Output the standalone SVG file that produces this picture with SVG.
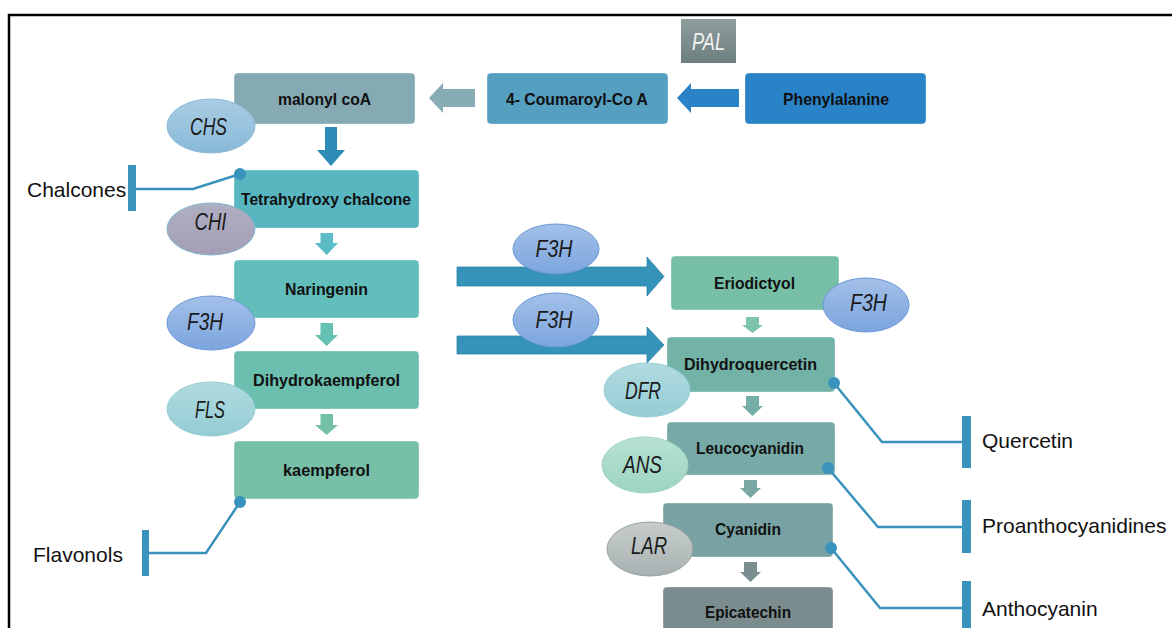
<svg xmlns="http://www.w3.org/2000/svg" width="1172" height="628" viewBox="0 0 1172 628">
<defs>
<style>
.box{stroke:#ffffff;stroke-opacity:0.35;stroke-width:1}
.lbl{font-family:"Liberation Sans",Arial,sans-serif;font-weight:bold;font-size:16.5px;fill:#111;text-anchor:middle;dominant-baseline:central}
.enz{font-family:"Liberation Sans",Arial,sans-serif;font-style:italic;font-size:24px;fill:#1a1a1a;text-anchor:middle;dominant-baseline:central}
.out{font-family:"Liberation Sans",Arial,sans-serif;font-size:21px;fill:#111}
.inh{fill:none;stroke:#3A93BD;stroke-width:2.5}
.bar{fill:#3A93BD}
.dot{fill:#3A93BD}
</style>
<linearGradient id="gCHS" x1="0" y1="0" x2="0" y2="1"><stop offset="0" stop-color="#A9CDE4"/><stop offset="1" stop-color="#88B9D8"/></linearGradient>
<linearGradient id="gCHI" x1="0" y1="0" x2="0" y2="1"><stop offset="0" stop-color="#B0AEC2"/><stop offset="1" stop-color="#A29FB6"/></linearGradient>
<linearGradient id="gF3H" x1="0" y1="0" x2="0" y2="1"><stop offset="0" stop-color="#A3C0E8"/><stop offset="1" stop-color="#7CA5DE"/></linearGradient>
<linearGradient id="gFLS" x1="0" y1="0" x2="0" y2="1"><stop offset="0" stop-color="#B0DBE0"/><stop offset="1" stop-color="#95CCD4"/></linearGradient>
<linearGradient id="gANS" x1="0" y1="0" x2="0" y2="1"><stop offset="0" stop-color="#B8E2D3"/><stop offset="1" stop-color="#9DD4C2"/></linearGradient>
<linearGradient id="gLAR" x1="0" y1="0" x2="0" y2="1"><stop offset="0" stop-color="#C7CDCD"/><stop offset="1" stop-color="#A8B1B1"/></linearGradient>
<linearGradient id="gPAL" x1="0" y1="0" x2="0" y2="1"><stop offset="0" stop-color="#8F9D9D"/><stop offset="1" stop-color="#6D7F7F"/></linearGradient>
</defs>
<rect width="1172" height="628" fill="#ffffff"/>
<rect x="9" y="15" width="1200" height="700" fill="none" stroke="#000" stroke-width="2.5"/>

<!-- boxes -->
<g id="phenylalanine"><rect class="box" x="745" y="73" width="181" height="51" rx="4" fill="#2A83C6"/><text class="lbl" x="836" y="98.5" textLength="106" lengthAdjust="spacingAndGlyphs">Phenylalanine</text></g>
<g id="coumaroyl"><rect class="box" x="487" y="73" width="181" height="51" rx="4" fill="#559FC1"/><text class="lbl" x="577" y="98.5" textLength="142" lengthAdjust="spacingAndGlyphs">4- Coumaroyl-Co A</text></g>
<g id="malonyl"><rect class="box" x="234" y="73" width="181" height="51" rx="4" fill="#86AAB3"/><text class="lbl" x="324.5" y="98.5" textLength="93" lengthAdjust="spacingAndGlyphs">malonyl coA</text></g>
<g id="tetrahydroxy"><rect class="box" x="234" y="170" width="185" height="58" rx="4" fill="#58B6C0"/><text class="lbl" x="326" y="199" textLength="170" lengthAdjust="spacingAndGlyphs">Tetrahydroxy chalcone</text></g>
<g id="naringenin"><rect class="box" x="234" y="260" width="185" height="58" rx="4" fill="#62BEBB"/><text class="lbl" x="326.5" y="289" textLength="83" lengthAdjust="spacingAndGlyphs">Naringenin</text></g>
<g id="dihydrokaempferol"><rect class="box" x="234" y="351" width="185" height="58" rx="4" fill="#6CBFAF"/><text class="lbl" x="326.5" y="380" textLength="147" lengthAdjust="spacingAndGlyphs">Dihydrokaempferol</text></g>
<g id="kaempferol"><rect class="box" x="234" y="441" width="185" height="58" rx="4" fill="#77BFA6"/><text class="lbl" x="326.5" y="470" textLength="87" lengthAdjust="spacingAndGlyphs">kaempferol</text></g>
<g id="eriodictyol"><rect class="box" x="671" y="256" width="168" height="54" rx="4" fill="#78BFA7"/><text class="lbl" x="754.5" y="283" textLength="81" lengthAdjust="spacingAndGlyphs">Eriodictyol</text></g>
<g id="dihydroquercetin"><rect class="box" x="667" y="337" width="168" height="55" rx="4" fill="#73B2A7"/><text class="lbl" x="750.5" y="364" textLength="133" lengthAdjust="spacingAndGlyphs">Dihydroquercetin</text></g>
<g id="leucocyanidin"><rect class="box" x="667" y="422" width="168" height="53" rx="4" fill="#77AAA6"/><text class="lbl" x="750" y="448" textLength="108" lengthAdjust="spacingAndGlyphs">Leucocyanidin</text></g>
<g id="cyanidin"><rect class="box" x="663" y="503" width="170" height="54" rx="4" fill="#78A2A4"/><text class="lbl" x="748" y="529" textLength="66" lengthAdjust="spacingAndGlyphs">Cyanidin</text></g>
<g id="epicatechin"><rect class="box" x="663" y="587" width="170" height="60" rx="4" fill="#7A8C8E"/><text class="lbl" x="748" y="612" textLength="86" lengthAdjust="spacingAndGlyphs">Epicatechin</text></g>

<!-- connectors -->
<g id="connectors">
<polygon points="739,89 691,89 691,83 677,98 691,113 691,107 739,107" fill="#2A83C6"/>
<polygon points="475,89 443,89 443,83 429,98 443,113 443,107 475,107" fill="#87ACB3"/>
<polygon points="325,127 337,127 337,150 345,150 331,166 317,150 325,150" fill="#2E8DB6"/>
<polygon points="320.5,233 333,233 333,243 338,243 326.7,255 315,243 320.5,243" fill="#5CBCC5"/>
<polygon points="320.5,323 333,323 333,335 338,335 326.7,346 315,335 320.5,335" fill="#66C1B5"/>
<polygon points="320.5,414 333,414 333,425 338,425 326.7,435 315,425 320.5,425" fill="#74C0A8"/>
<polygon points="457,267 647,267 647,257 664,276.5 647,296 647,286 457,286" fill="#3592B8" stroke="#2F85A8" stroke-width="0.8"/>
<polygon points="457,336 647,336 647,327 664,345 647,363 647,354 457,354" fill="#3592B8" stroke="#2F85A8" stroke-width="0.8"/>
<polygon points="746,317 759,317 759,325 763,325 752.5,333 742,325 746,325" fill="#7EC3AB"/>
<polygon points="746,396 759,396 759,406 763,406 752.5,416 742,406 746,406" fill="#74AEA6"/>
<polygon points="744,480 757,480 757,488 761,488 750.5,498 740,488 744,488" fill="#7AA8A5"/>
<polygon points="744,562 757,562 757,572 761,572 750.5,582 740,572 744,572" fill="#7A8E8F"/>
<polyline class="inh" points="135,189 193,189 240,174"/>
<circle class="dot" cx="240" cy="174" r="6"/>
<rect class="bar" x="128" y="165" width="8" height="46"/>
<polyline class="inh" points="149,553 206,553 240,502"/>
<circle class="dot" cx="240" cy="502" r="6"/>
<rect class="bar" x="142" y="530" width="7" height="46"/>
<polyline class="inh" points="834,383 882,442 962,442"/>
<circle class="dot" cx="834" cy="383" r="6"/>
<rect class="bar" x="962" y="416" width="9" height="52"/>
<polyline class="inh" points="828,468 878,527 962,527"/>
<circle class="dot" cx="828" cy="468" r="6"/>
<rect class="bar" x="962" y="500" width="9" height="53"/>
<polyline class="inh" points="831,548 880,608 962,608"/>
<circle class="dot" cx="831" cy="548" r="6"/>
<rect class="bar" x="962" y="581" width="9" height="60"/>
</g>

<!-- enzymes -->
<g id="PAL"><rect x="681" y="19" width="55" height="44" fill="url(#gPAL)"/><text class="enz" x="708.5" y="41" style="fill:#F2F2F2" textLength="33" lengthAdjust="spacingAndGlyphs">PAL</text></g>
<g id="CHS"><ellipse cx="211" cy="126" rx="44" ry="27" fill="url(#gCHS)" stroke="#8CB8D6" stroke-width="1"/><text class="enz" x="208.5" y="126" textLength="37" lengthAdjust="spacingAndGlyphs">CHS</text></g>
<g id="CHI"><ellipse cx="211" cy="229" rx="44" ry="26" fill="url(#gCHI)" stroke="#7FB4CC" stroke-width="1"/><text class="enz" x="210.5" y="221" textLength="32" lengthAdjust="spacingAndGlyphs">CHI</text></g>
<g id="F3H-1"><ellipse cx="211" cy="323" rx="44" ry="27" fill="url(#gF3H)" stroke="#6A98D8" stroke-width="1"/><text class="enz" x="205" y="321" textLength="36" lengthAdjust="spacingAndGlyphs">F3H</text></g>
<g id="FLS"><ellipse cx="211" cy="409" rx="44" ry="27" fill="url(#gFLS)" stroke="#96CCD4" stroke-width="1"/><text class="enz" x="210" y="409.5" textLength="30" lengthAdjust="spacingAndGlyphs">FLS</text></g>
<g id="F3H-2"><ellipse cx="556" cy="249" rx="43" ry="25" fill="url(#gF3H)" stroke="#6A98D8" stroke-width="1"/><text class="enz" x="554" y="248.5" textLength="37" lengthAdjust="spacingAndGlyphs">F3H</text></g>
<g id="F3H-3"><ellipse cx="556" cy="320" rx="43" ry="27" fill="url(#gF3H)" stroke="#6A98D8" stroke-width="1"/><text class="enz" x="554" y="319.5" textLength="37" lengthAdjust="spacingAndGlyphs">F3H</text></g>
<g id="F3H-4"><ellipse cx="866" cy="305" rx="43" ry="27" fill="url(#gF3H)" stroke="#6A98D8" stroke-width="1"/><text class="enz" x="868.5" y="302.5" textLength="37" lengthAdjust="spacingAndGlyphs">F3H</text></g>
<g id="DFR"><ellipse cx="647" cy="390" rx="43" ry="27" fill="url(#gFLS)" stroke="#96CCD4" stroke-width="1"/><text class="enz" x="643" y="390.5" textLength="36" lengthAdjust="spacingAndGlyphs">DFR</text></g>
<g id="ANS"><ellipse cx="645" cy="465" rx="43" ry="28" fill="url(#gANS)" stroke="#9ED3C1" stroke-width="1"/><text class="enz" x="642.5" y="464" textLength="39" lengthAdjust="spacingAndGlyphs">ANS</text></g>
<g id="LAR"><ellipse cx="650" cy="549" rx="43" ry="27" fill="url(#gLAR)" stroke="#97A2A2" stroke-width="1"/><text class="enz" x="649" y="545" textLength="36" lengthAdjust="spacingAndGlyphs">LAR</text></g>

<!-- outputs -->
<g id="chalcones"><text class="out" x="27" y="197">Chalcones</text></g>
<g id="flavonols"><text class="out" x="33" y="562">Flavonols</text></g>
<g id="quercetin"><text class="out" x="982" y="448">Quercetin</text></g>
<g id="proanthocyanidines"><text class="out" x="982" y="533">Proanthocyanidines</text></g>
<g id="anthocyanin"><text class="out" x="982" y="616">Anthocyanin</text></g>
</svg>
